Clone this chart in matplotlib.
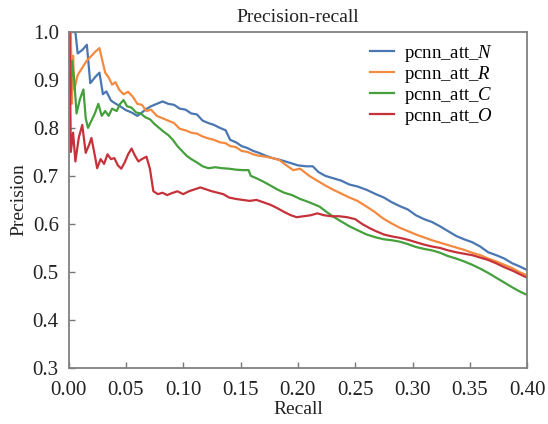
import matplotlib
matplotlib.use("Agg")
import matplotlib.pyplot as plt

plt.rcParams['font.family'] = ['Liberation Serif', 'DejaVu Serif']
plt.rcParams['mathtext.fontset'] = 'custom'
plt.rcParams['mathtext.it'] = 'Liberation Serif:italic'
plt.rcParams['mathtext.rm'] = 'Liberation Serif'

# curves: (recall, precision)
pts_N = [(0.006, 1.0), (0.008, 0.955), (0.012, 0.962), (0.016, 0.973), (0.019, 0.893),
         (0.023, 0.905), (0.027, 0.915), (0.030, 0.870), (0.033, 0.876), (0.037, 0.857),
         (0.040, 0.852), (0.045, 0.845), (0.050, 0.837), (0.055, 0.832), (0.060, 0.825),
         (0.063, 0.830), (0.067, 0.838), (0.072, 0.845), (0.077, 0.850), (0.082, 0.855),
         (0.087, 0.850), (0.092, 0.848), (0.097, 0.840), (0.102, 0.838), (0.107, 0.830),
         (0.112, 0.828), (0.117, 0.815), (0.122, 0.810), (0.127, 0.806), (0.132, 0.800),
         (0.137, 0.795), (0.141, 0.775), (0.146, 0.770), (0.151, 0.762), (0.156, 0.758),
         (0.161, 0.752), (0.166, 0.748), (0.172, 0.742), (0.178, 0.737), (0.185, 0.733),
         (0.192, 0.728), (0.200, 0.722), (0.207, 0.720), (0.213, 0.720), (0.218, 0.708),
         (0.224, 0.700), (0.231, 0.695), (0.238, 0.690), (0.245, 0.682), (0.252, 0.678),
         (0.260, 0.671), (0.268, 0.662), (0.275, 0.655), (0.282, 0.645), (0.289, 0.637),
         (0.296, 0.630), (0.303, 0.618), (0.310, 0.610), (0.317, 0.604), (0.324, 0.595),
         (0.331, 0.585), (0.338, 0.575), (0.345, 0.568), (0.352, 0.562), (0.359, 0.553),
         (0.366, 0.541), (0.373, 0.535), (0.380, 0.528), (0.387, 0.518), (0.393, 0.512),
         (0.400, 0.504)]

pts_R = [(0.002, 1.0), (0.003, 0.85), (0.004, 0.95), (0.005, 0.88), (0.008, 0.91),
         (0.012, 0.925), (0.016, 0.94), (0.020, 0.95), (0.024, 0.96), (0.027, 0.966),
         (0.030, 0.935), (0.032, 0.915), (0.035, 0.905), (0.038, 0.89), (0.041, 0.895),
         (0.044, 0.88), (0.048, 0.87), (0.052, 0.875), (0.056, 0.865), (0.060, 0.85),
         (0.064, 0.848), (0.068, 0.835), (0.072, 0.838), (0.077, 0.825), (0.082, 0.82),
         (0.087, 0.815), (0.092, 0.81), (0.097, 0.798), (0.102, 0.795), (0.107, 0.79),
         (0.112, 0.788), (0.117, 0.782), (0.122, 0.778), (0.127, 0.775), (0.132, 0.770),
         (0.137, 0.768), (0.141, 0.762), (0.146, 0.760), (0.151, 0.752), (0.156, 0.750),
         (0.161, 0.745), (0.166, 0.742), (0.172, 0.740), (0.178, 0.737), (0.184, 0.733),
         (0.190, 0.722), (0.196, 0.712), (0.202, 0.715), (0.210, 0.700), (0.217, 0.690),
         (0.224, 0.680), (0.231, 0.671), (0.238, 0.663), (0.245, 0.655), (0.252, 0.648),
         (0.260, 0.636), (0.267, 0.625), (0.274, 0.612), (0.281, 0.602), (0.289, 0.592),
         (0.296, 0.585), (0.303, 0.578), (0.310, 0.572), (0.317, 0.566), (0.324, 0.561),
         (0.331, 0.556), (0.338, 0.551), (0.345, 0.546), (0.352, 0.540), (0.359, 0.535),
         (0.366, 0.528), (0.373, 0.522), (0.380, 0.515), (0.387, 0.508), (0.393, 0.500),
         (0.400, 0.493)]

pts_C = [(0.002, 0.87), (0.003, 0.94), (0.005, 0.90), (0.007, 0.83), (0.010, 0.86),
         (0.013, 0.88), (0.015, 0.82), (0.017, 0.80), (0.020, 0.815), (0.023, 0.83),
         (0.026, 0.85), (0.029, 0.825), (0.032, 0.835), (0.035, 0.825), (0.038, 0.84),
         (0.042, 0.835), (0.045, 0.85), (0.048, 0.858), (0.051, 0.845), (0.055, 0.842),
         (0.059, 0.832), (0.063, 0.830), (0.067, 0.822), (0.071, 0.818), (0.075, 0.808),
         (0.079, 0.80), (0.083, 0.792), (0.087, 0.785), (0.091, 0.775), (0.095, 0.762),
         (0.099, 0.752), (0.103, 0.742), (0.107, 0.735), (0.112, 0.728), (0.117, 0.720),
         (0.122, 0.716), (0.128, 0.718), (0.134, 0.716), (0.140, 0.715), (0.146, 0.713),
         (0.152, 0.712), (0.157, 0.712), (0.159, 0.700), (0.164, 0.695), (0.170, 0.688),
         (0.176, 0.680), (0.182, 0.672), (0.188, 0.665), (0.195, 0.660), (0.202, 0.652),
         (0.210, 0.645), (0.219, 0.636), (0.225, 0.625), (0.231, 0.615), (0.238, 0.605),
         (0.245, 0.595), (0.252, 0.587), (0.260, 0.578), (0.268, 0.572), (0.275, 0.568),
         (0.282, 0.566), (0.289, 0.563), (0.296, 0.558), (0.303, 0.552), (0.310, 0.548),
         (0.317, 0.545), (0.324, 0.540), (0.331, 0.533), (0.338, 0.528), (0.345, 0.522),
         (0.352, 0.515), (0.359, 0.507), (0.366, 0.498), (0.373, 0.488), (0.380, 0.478),
         (0.387, 0.468), (0.393, 0.460), (0.400, 0.452)]

pts_O = [(0.001, 1.0), (0.002, 0.75), (0.004, 0.79), (0.006, 0.73), (0.009, 0.78),
         (0.012, 0.806), (0.015, 0.748), (0.018, 0.765), (0.020, 0.779), (0.023, 0.742),
         (0.025, 0.716), (0.028, 0.735), (0.031, 0.725), (0.034, 0.745), (0.037, 0.735),
         (0.040, 0.737), (0.043, 0.722), (0.046, 0.715), (0.049, 0.728), (0.052, 0.745),
         (0.055, 0.757), (0.058, 0.742), (0.061, 0.730), (0.064, 0.735), (0.068, 0.740),
         (0.071, 0.715), (0.074, 0.668), (0.078, 0.662), (0.082, 0.665), (0.086, 0.660),
         (0.090, 0.664), (0.095, 0.668), (0.100, 0.662), (0.105, 0.668), (0.110, 0.672),
         (0.115, 0.676), (0.120, 0.672), (0.125, 0.668), (0.130, 0.665), (0.135, 0.662),
         (0.140, 0.655), (0.146, 0.652), (0.152, 0.650), (0.158, 0.648), (0.164, 0.650),
         (0.170, 0.645), (0.176, 0.640), (0.182, 0.633), (0.188, 0.625), (0.194, 0.618),
         (0.199, 0.614), (0.205, 0.616), (0.211, 0.618), (0.217, 0.622), (0.223, 0.618),
         (0.229, 0.616), (0.236, 0.616), (0.243, 0.614), (0.250, 0.610), (0.256, 0.600),
         (0.262, 0.592), (0.268, 0.585), (0.275, 0.578), (0.282, 0.574), (0.289, 0.571),
         (0.296, 0.567), (0.303, 0.562), (0.310, 0.557), (0.317, 0.553), (0.324, 0.550),
         (0.331, 0.545), (0.338, 0.541), (0.345, 0.538), (0.352, 0.535), (0.359, 0.530),
         (0.366, 0.525), (0.373, 0.518), (0.380, 0.510), (0.387, 0.503), (0.393, 0.496),
         (0.400, 0.488)]

labels = ['pcnn_att_$N$', 'pcnn_att_$R$', 'pcnn_att_$C$', 'pcnn_att_$O$']
colors = ['#4a76b2', '#f38a3f', '#45a03c', '#c5323a']
xticks = [0.00, 0.05, 0.10, 0.15, 0.20, 0.25, 0.30, 0.35, 0.40]
yticks = [0.3, 0.4, 0.5, 0.6, 0.7, 0.8, 0.9, 1.0]

fig = plt.figure(figsize=(5.48, 4.24), dpi=100)
ax = fig.add_axes([0.125, 0.132, 0.837, 0.793])

for pts, lab, col in zip([pts_N, pts_R, pts_C, pts_O], labels, colors):
    r, p = zip(*pts)
    ax.plot(r, p, color=col, lw=1.6, label=lab)

ax.set_xlim(0, 0.40)
ax.set_ylim(0.3, 1.0)
ax.set_xticks(xticks)
ax.set_xticklabels([f'{t:.2f}' for t in xticks])
ax.set_yticks(yticks)
ax.set_yticklabels([f'{t:.1f}' for t in yticks])
ax.tick_params(direction='in', length=4, width=1, colors='#777777',
               labelcolor='#222222', labelsize=15)
ax.tick_params(axis='x', pad=9)
ax.tick_params(axis='y', pad=7)
for s in ax.spines.values():
    s.set_color('#808080')
    s.set_linewidth(1.3)

ax.set_title('Precision-recall', fontsize=14, pad=7, color='#222222')
ax.set_xlabel('Recall', fontsize=14, labelpad=1, color='#222222')
ax.set_ylabel('Precision', fontsize=14, labelpad=4, color='#222222')

ax.legend(loc='upper right', frameon=False, fontsize=13.5, handlelength=1.3,
          handletextpad=0.5, labelspacing=0.0, borderaxespad=0.2,
          bbox_to_anchor=(0.95, 1.0))

fig.savefig('out.png', dpi=100)
